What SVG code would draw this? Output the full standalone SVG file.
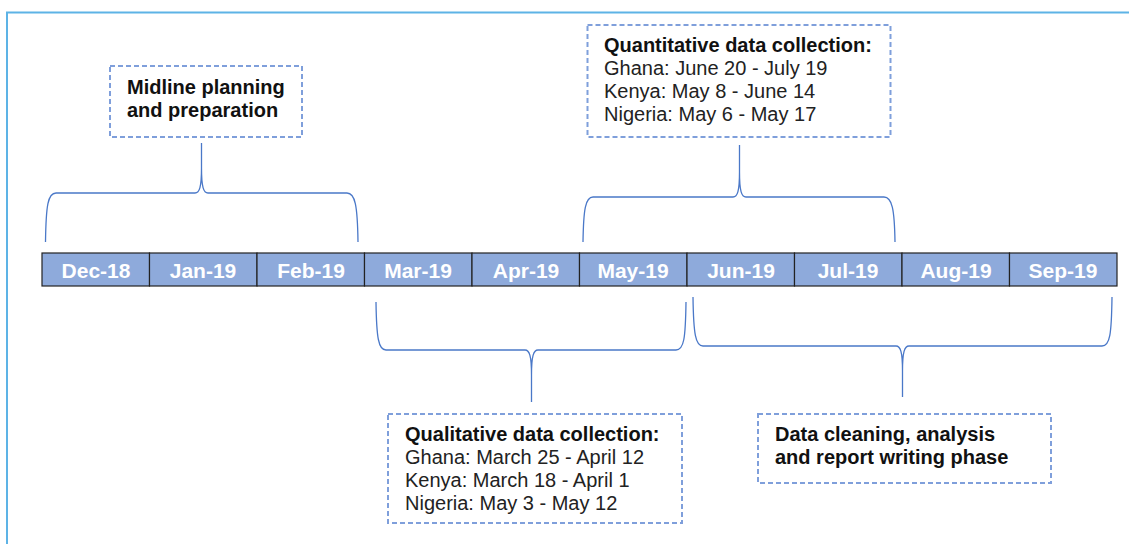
<svg xmlns="http://www.w3.org/2000/svg" width="1129" height="544" viewBox="0 0 1129 544">
<style>
.frame{fill:none;stroke:#5DB3E6;stroke-width:2}
.cell{fill:#8EAADB;stroke:#222;stroke-width:1.2}
.month{font-family:"Liberation Sans",Arial,sans-serif;font-weight:bold;font-size:21px;fill:#fff;text-anchor:middle}
.brace{fill:none;stroke:#4A78C8;stroke-width:1.3}
.box{fill:#fff;stroke:#7F9FDB;stroke-width:2;stroke-dasharray:5 3}
.lbl{font-family:"Liberation Sans",Arial,sans-serif;font-size:20px;fill:#222}
.b{font-weight:bold;fill:#111}
</style>
<rect width="1129" height="544" fill="#fff"/>
<rect class="frame" x="7" y="12.5" width="1200" height="600"/>
<g id="timeline">
<rect class="cell" x="42" y="253" width="107.5" height="33"/>
<rect class="cell" x="149.5" y="253" width="107.5" height="33"/>
<rect class="cell" x="257" y="253" width="107.5" height="33"/>
<rect class="cell" x="364.5" y="253" width="107.5" height="33"/>
<rect class="cell" x="472" y="253" width="107.5" height="33"/>
<rect class="cell" x="579.5" y="253" width="107.5" height="33"/>
<rect class="cell" x="687" y="253" width="107.5" height="33"/>
<rect class="cell" x="794.5" y="253" width="107.5" height="33"/>
<rect class="cell" x="902" y="253" width="107.5" height="33"/>
<rect class="cell" x="1009.5" y="253" width="107.5" height="33"/>
<text class="month" x="96" y="277.5">Dec-18</text>
<text class="month" x="203" y="277.5">Jan-19</text>
<text class="month" x="311" y="277.5">Feb-19</text>
<text class="month" x="418" y="277.5">Mar-19</text>
<text class="month" x="526" y="277.5">Apr-19</text>
<text class="month" x="633" y="277.5">May-19</text>
<text class="month" x="741" y="277.5">Jun-19</text>
<text class="month" x="848" y="277.5">Jul-19</text>
<text class="month" x="956" y="277.5">Aug-19</text>
<text class="month" x="1063" y="277.5">Sep-19</text>
</g>
<g id="connectors">
<path class="brace" d="M45.5,242 C46,205 48,193 56,193 L195,193 C199.5,193 201.5,187 201.5,168 L201.5,143 M201.5,168 C201.5,187 203.5,193 208,193 L347,193 C355,193 357.5,205 358,242"/>
<path class="brace" d="M583,242 C583.5,209 585.5,197 593,197 L733,197 C737.5,197 739.5,191 739.5,172 L739.5,145 M739.5,172 C739.5,191 741.5,197 746,197 L884,197 C892,197 894.5,209 895,242"/>
<path class="brace" d="M376,302 C376.5,338 378.5,350 386,350 L525,350 C529.5,350 531.5,356 531.5,375 L531.5,402 M531.5,375 C531.5,356 533.5,350 538,350 L676,350 C684,350 685.5,338 686,302"/>
<path class="brace" d="M693,297 C693.5,334 695.5,346 703,346 L896,346 C900.5,346 902.5,352 902.5,371 L902.5,397 M902.5,371 C902.5,352 904.5,346 909,346 L1102,346 C1110,346 1111.5,334 1112,297"/>
</g>
<g id="midline">
<rect class="box" x="110" y="66" width="192" height="71"/>
<text class="lbl b" x="127" y="94">Midline planning</text>
<text class="lbl b" x="127" y="116.5">and preparation</text>
</g>
<g id="quantitative">
<rect class="box" x="587.5" y="25" width="303" height="112"/>
<text class="lbl b" x="604" y="52">Quantitative data collection:</text>
<text class="lbl" x="604" y="75">Ghana: June 20 - July 19</text>
<text class="lbl" x="604" y="98">Kenya: May 8 - June 14</text>
<text class="lbl" x="604" y="121">Nigeria: May 6 - May 17</text>
</g>
<g id="qualitative">
<rect class="box" x="388" y="414" width="294" height="109"/>
<text class="lbl b" x="405" y="441">Qualitative data collection:</text>
<text class="lbl" x="405" y="464">Ghana: March 25 - April 12</text>
<text class="lbl" x="405" y="487">Kenya: March 18 - April 1</text>
<text class="lbl" x="405" y="510">Nigeria: May 3 - May 12</text>
</g>
<g id="analysis">
<rect class="box" x="758" y="414" width="293" height="69"/>
<text class="lbl b" x="775" y="441">Data cleaning, analysis</text>
<text class="lbl b" x="775" y="464">and report writing phase</text>
</g>
</svg>
